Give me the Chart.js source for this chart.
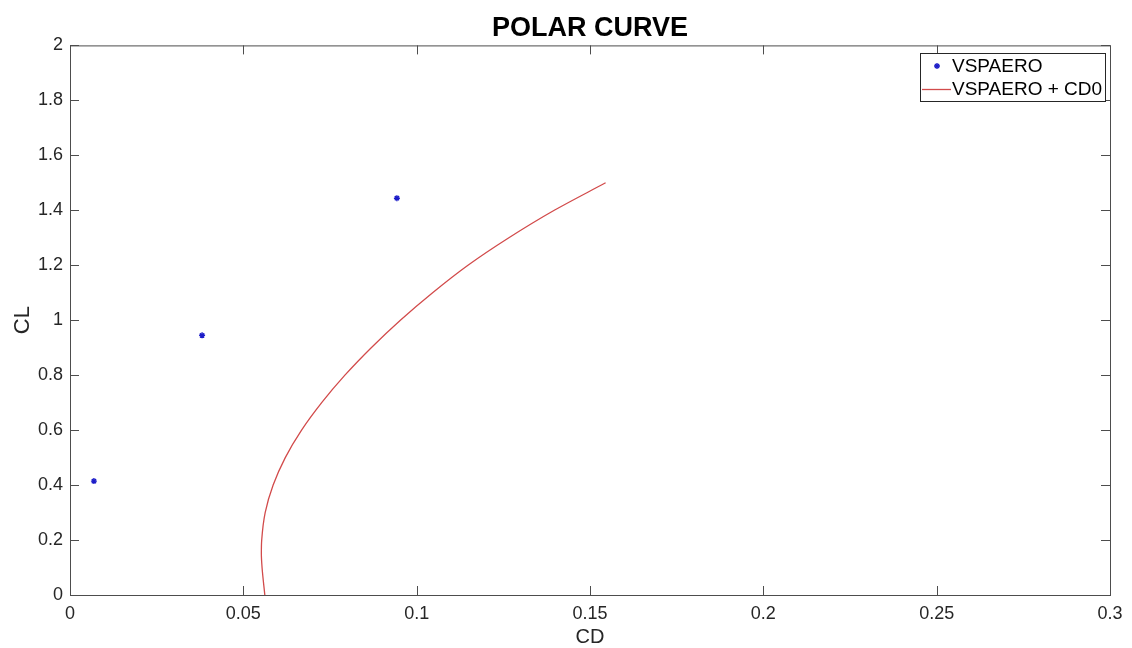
<!DOCTYPE html>
<html>
<head>
<meta charset="utf-8">
<script src="https://cdn.jsdelivr.net/npm/chart.js@4/dist/chart.umd.min.js"></script>
<style>
  html, body { margin: 0; padding: 0; background: #fff; }
  #wrap { width: 1132px; height: 648px; }
</style>
</head>
<body>
<div id="wrap"><canvas id="polar"></canvas></div>
<script>
// VSPAERO raw points
const vspCD = [0.0069, 0.0381, 0.0943];
const vspCL = [0.4145, 0.945, 1.444];

// VSPAERO + CD0 curve
const polarCL = [0, 0.1, 0.15, 0.2, 0.3, 0.4, 0.5, 0.6, 0.7, 0.8, 0.9, 1.0, 1.1, 1.2, 1.3, 1.4, 1.5];
const polarCD = [0.0562, 0.0554, 0.0552, 0.0553, 0.0563, 0.0586, 0.0621, 0.0668, 0.0726, 0.0793, 0.0869,
                 0.0953, 0.1046, 0.1148, 0.1266, 0.1397, 0.1545];

const xTicks = [0, 0.05, 0.1, 0.15, 0.2, 0.25, 0.3];
const xTickLabels = ['0', '0.05', '0.1', '0.15', '0.2', '0.25', '0.3'];
const yTicks = [0, 0.2, 0.4, 0.6, 0.8, 1, 1.2, 1.4, 1.6, 1.8, 2];
const yTickLabels = ['0', '0.2', '0.4', '0.6', '0.8', '1', '1.2', '1.4', '1.6', '1.8', '2'];

const FONT = "'Liberation Sans', Arial, Helvetica, sans-serif";
const AXIS_COLOR = '#4d4d4d';
const TEXT_COLOR = '#262626';

// matlab-like box with inward ticks on all four sides, plus legend
const boxPlugin = {
  id: 'matlabBox',
  afterDraw(chart) {
    const { ctx, chartArea: a, scales } = chart;
    const len = 9;
    ctx.save();
    ctx.strokeStyle = AXIS_COLOR;
    ctx.lineWidth = 1;
    ctx.strokeRect(a.left + 0.5, a.top + 0.5, a.right - a.left, a.bottom - a.top);
    ctx.beginPath();
    scales.x.ticks.forEach(t => {
      const x = Math.round(scales.x.getPixelForValue(t.value)) + 0.5;
      ctx.moveTo(x, a.bottom); ctx.lineTo(x, a.bottom - len);
      ctx.moveTo(x, a.top); ctx.lineTo(x, a.top + len);
    });
    scales.y.ticks.forEach(t => {
      const y = Math.round(scales.y.getPixelForValue(t.value)) + 0.5;
      ctx.moveTo(a.left, y); ctx.lineTo(a.left + len, y);
      ctx.moveTo(a.right, y); ctx.lineTo(a.right - len, y);
    });
    ctx.stroke();

    // legend
    const lx = 920, ly = 53, lw = 185, lh = 48;
    ctx.fillStyle = '#fff';
    ctx.fillRect(lx, ly, lw, lh);
    ctx.strokeStyle = '#262626';
    ctx.strokeRect(lx + 0.5, ly + 0.5, lw, lh);
    ctx.font = '19px ' + FONT;
    ctx.textBaseline = 'middle';
    const ds = chart.data.datasets;
    ctx.strokeStyle = ds[0].borderColor;
    ctx.fillStyle = ds[0].backgroundColor;
    ctx.lineWidth = ds[0].borderWidth;
    Chart.helpers.drawPoint(ctx, { pointStyle: 'star', radius: ds[0].pointRadius, rotation: 0, borderWidth: ds[0].borderWidth }, 937, 66);
    ctx.strokeStyle = ds[1].borderColor;
    ctx.lineWidth = ds[1].borderWidth;
    ctx.beginPath();
    ctx.moveTo(922, 89.5); ctx.lineTo(951, 89.5);
    ctx.stroke();
    ctx.fillStyle = '#000';
    ctx.fillText(ds[0].label, 952, 67);
    ctx.fillText(ds[1].label, 952, 90);
    ctx.restore();
  }
};

new Chart(document.getElementById('polar'), {
  type: 'scatter',
  data: {
    datasets: [
      {
        label: 'VSPAERO',
        data: vspCD.map((cd, i) => ({ x: cd, y: vspCL[i] })),
        pointStyle: 'star',
        pointRadius: 3,
        borderWidth: 1.4,
        borderColor: '#1c1cc8',
        backgroundColor: '#1c1cc8',
        showLine: false
      },
      {
        label: 'VSPAERO + CD0',
        data: polarCD.map((cd, i) => ({ x: cd, y: polarCL[i] })),
        showLine: true,
        pointRadius: 0,
        borderWidth: 1.3,
        borderColor: '#d24b4b',
        backgroundColor: '#d24b4b',
        cubicInterpolationMode: 'monotone',
        indexAxis: 'y'
      }
    ]
  },
  options: {
    responsive: true,
    maintainAspectRatio: false,
    animation: false,
    layout: { padding: { left: 0, right: 22, top: 0, bottom: 0 } },
    plugins: {
      legend: { display: false },
      tooltip: { enabled: false },
      title: {
        display: true,
        fullSize: false,
        text: 'POLAR CURVE',
        color: '#000',
        font: { family: FONT, size: 27, weight: 'bold', lineHeight: 1.2 },
        padding: { top: 12, bottom: 1 }
      }
    },
    scales: {
      x: {
        type: 'linear',
        min: 0, max: 0.3,
        afterBuildTicks: s => { s.ticks = xTicks.map(v => ({ value: v })); },
        afterFit: s => { s.height = 53; },
        grid: { display: false, drawTicks: false },
        border: { display: false },
        ticks: {
          padding: 8,
          color: TEXT_COLOR,
          font: { family: FONT, size: 18 },
          maxRotation: 0,
          callback: (v, i) => xTickLabels[i]
        },
        title: {
          display: true, text: 'CD', color: TEXT_COLOR,
          font: { family: FONT, size: 20, lineHeight: 1 },
          padding: { top: 0, bottom: 1 }
        }
      },
      y: {
        type: 'linear',
        min: 0, max: 2,
        afterBuildTicks: s => { s.ticks = yTicks.map(v => ({ value: v })); },
        afterFit: s => { s.width = 70; },
        grid: { display: false, drawTicks: false },
        border: { display: false },
        ticks: {
          padding: 7,
          color: TEXT_COLOR,
          font: { family: FONT, size: 18 },
          callback: (v, i) => yTickLabels[i]
        },
        title: {
          display: true, text: 'CL', color: TEXT_COLOR,
          font: { family: FONT, size: 22, lineHeight: 1 },
          padding: { top: 12, bottom: 0 }
        }
      }
    }
  },
  plugins: [boxPlugin]
});
</script>
</body>
</html>
